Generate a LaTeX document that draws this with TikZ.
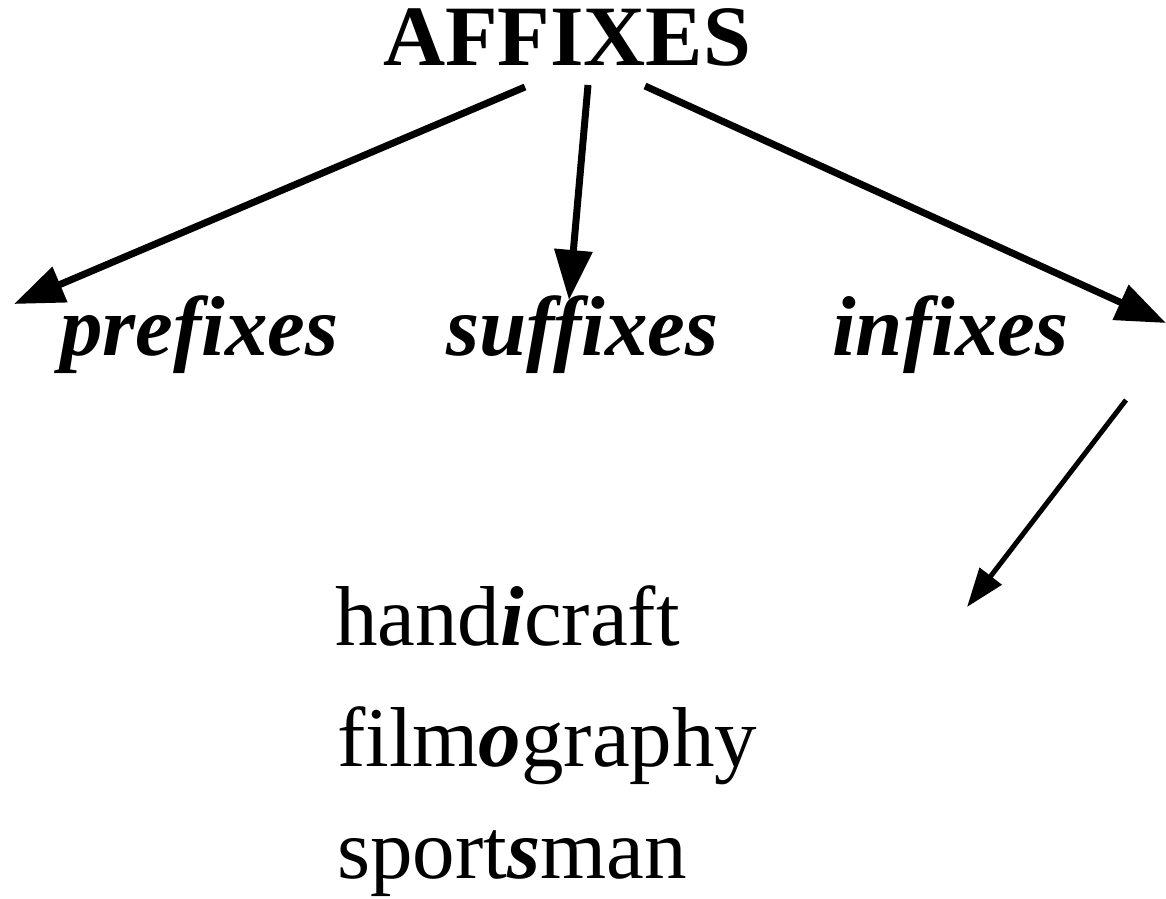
\documentclass[tikz,border=0pt]{standalone}
\usepackage{fontspec}
\setmainfont{Liberation Serif}
\usetikzlibrary{arrows.meta}
\tikzset{
  big/.style={inner sep=0pt, anchor=base west, font=\fontsize{85}{100}\selectfont},
  head/.style={big, font=\fontsize{86}{100}\selectfont\bfseries},
  cat/.style={big, font=\fontsize{85}{100}\selectfont\bfseries\itshape},
  thick arrow/.style={line width=7pt, -{Triangle[length=50pt,width=37pt]}},
  thin arrow/.style={line width=5pt, -{Triangle[length=39pt,width=27pt]}},
}
\begin{document}
\begin{tikzpicture}[x=1pt,y=-1pt]
\useasboundingbox (0,0) rectangle (1166,898);
\node[head] (title) at (383,65) {AFFIXES};
\node[cat] (pre) at (60,355) {prefixes};
\node[cat] (suf) at (446,355) {suffixes};
\node[cat] (inf) at (832,355) {infixes};
\node[big] (ex1) at (335,645) {hand\textbf{\textit{i}}craft};
\node[big] (ex2) at (337,766) {film\textbf{\textit{o}}graphy};
\node[big] (ex3) at (337,878) {sport\textbf{\textit{s}}man};
\coordinate (s1) at (525,87);
\coordinate (t1) at (14,304);
\coordinate (s2) at (588,85);
\coordinate (t2) at (569,300);
\coordinate (s3) at (645,86);
\coordinate (t3) at (1166,323);
\coordinate (s4) at (1126,400);
\coordinate (t4) at (967,607);
\draw[thick arrow] (s1) -- (t1);
\draw[thick arrow] (s2) -- (t2);
\draw[thick arrow] (s3) -- (t3);
\draw[thin arrow] (s4) -- (t4);
\end{tikzpicture}
\end{document}
